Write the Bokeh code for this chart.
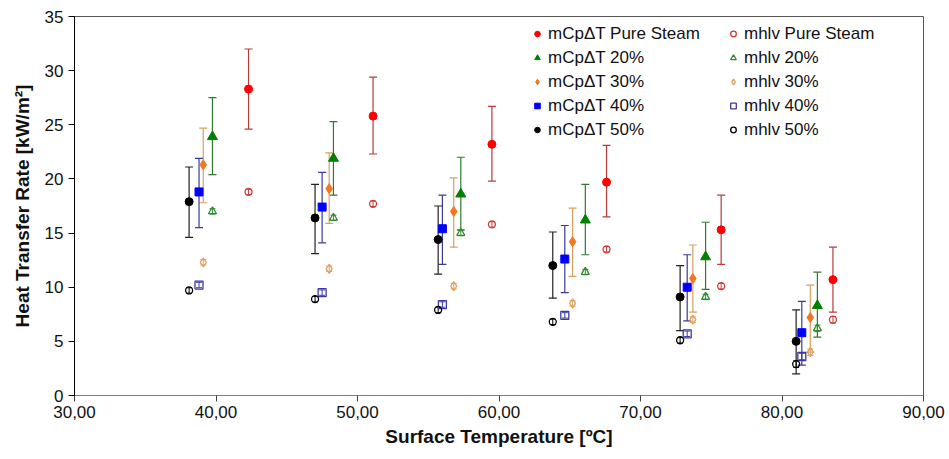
from bokeh.plotting import figure
from bokeh.models import (Range1d, FixedTicker, ColumnDataSource, Whisker, TeeHead,
                          Legend, LegendItem)
from bokeh.embed import file_html
from bokeh.resources import INLINE

# ---------------- data ----------------
series_names = ["Pure Steam", "20%", "30%", "40%", "50%"]

temp_pure = [42.3, 51.1, 59.5, 67.6, 75.7, 83.6]
mcp_pure = [28.3, 25.8, 23.2, 19.7, 15.3, 10.7]
mcp_pure_hi = [32.0, 29.4, 26.7, 23.1, 18.5, 13.7]
mcp_pure_lo = [24.6, 22.3, 19.8, 16.5, 12.1, 7.7]
mhlv_pure = [18.8, 17.7, 15.8, 13.5, 10.1, 7.0]

temp_20 = [39.75, 48.3, 57.3, 66.1, 74.6, 82.5]
mcp_20 = [23.9, 21.9, 18.6, 16.2, 12.8, 8.3]
mcp_20_hi = [27.5, 25.3, 22.0, 19.5, 16.0, 11.4]
mcp_20_lo = [20.4, 18.5, 15.3, 13.0, 9.8, 5.4]
mhlv_20 = [17.0, 16.4, 15.0, 11.4, 9.1, 6.2]

temp_30 = [39.1, 48.0, 56.8, 65.2, 73.7, 82.0]
mcp_30 = [21.3, 19.1, 17.0, 14.2, 10.8, 7.2]
mcp_30_hi = [24.7, 22.4, 20.1, 17.3, 13.9, 10.2]
mcp_30_lo = [17.8, 15.9, 13.7, 11.0, 7.7, 4.0]
mhlv_30 = [12.3, 11.7, 10.1, 8.5, 7.0, 4.0]

temp_40 = [38.8, 47.5, 56.0, 64.65, 73.3, 81.4]
mcp_40 = [18.8, 17.4, 15.4, 12.6, 10.0, 5.8]
mcp_40_hi = [21.9, 20.6, 18.5, 15.7, 13.0, 8.7]
mcp_40_lo = [15.5, 14.1, 12.1, 9.5, 6.9, 2.8]
mhlv_40 = [10.2, 9.5, 8.4, 7.4, 5.7, 3.6]

temp_50 = [38.1, 47.0, 55.7, 63.8, 72.8, 81.0]
mcp_50 = [17.9, 16.4, 14.4, 12.0, 9.1, 5.0]
mcp_50_hi = [21.1, 19.5, 17.5, 15.1, 12.0, 7.9]
mcp_50_lo = [14.6, 13.1, 11.2, 9.0, 6.0, 2.0]
mhlv_50 = [9.7, 8.9, 7.9, 6.8, 5.1, 2.9]

mhlv_err = [0.25, 0.25, 0.25, 0.25, 0.25, 0.3]

x_ticks = [30, 40, 50, 60, 70, 80, 90]
x_tick_labels = ["30,00", "40,00", "50,00", "60,00", "70,00", "80,00", "90,00"]
y_ticks = [0, 5, 10, 15, 20, 25, 30, 35]

# ---------------- styles ----------------
FONT = "Liberation Sans"
styles = [
    # marker, mcp color, bar color, mhlv color, mcp size, mhlv marker, mhlv size
    ("circle", "#ff0000", "#b83a3a", "#d03a3a", 8, "circle", 7),
    ("triangle", "#008000", "#2f7a2f", "#2f8a2f", 10, "triangle", 8),
    ("diamond", "#f07820", "#d8a060", "#e0a060", 10, "diamond", 9),
    ("square", "#0000ff", "#3a3a9a", "#3a3aa0", 8, "square", 8),
    ("circle", "#000000", "#222222", "#000000", 8, "circle", 7),
]
data = [
    (temp_pure, mcp_pure, mcp_pure_hi, mcp_pure_lo, mhlv_pure),
    (temp_20, mcp_20, mcp_20_hi, mcp_20_lo, mhlv_20),
    (temp_30, mcp_30, mcp_30_hi, mcp_30_lo, mhlv_30),
    (temp_40, mcp_40, mcp_40_hi, mcp_40_lo, mhlv_40),
    (temp_50, mcp_50, mcp_50_hi, mcp_50_lo, mhlv_50),
]

p = figure(width=949, height=459, output_backend="svg", toolbar_location=None,
           x_range=Range1d(30, 90), y_range=Range1d(0, 35),
           min_border_left=74, min_border_right=26, min_border_top=16, min_border_bottom=64)
p.background_fill_color = "white"
p.border_fill_color = "white"
p.outline_line_color = "#555555"
p.outline_line_width = 1
p.xgrid.visible = False
p.ygrid.visible = False

p.xaxis.ticker = FixedTicker(ticks=x_ticks)
p.xaxis.major_label_overrides = {t: l for t, l in zip(x_ticks, x_tick_labels)}
p.yaxis.ticker = FixedTicker(ticks=y_ticks)
for ax in (p.xaxis, p.yaxis):
    ax.minor_tick_line_color = None
    ax.major_tick_in = 0
    ax.major_tick_out = 6
    ax.major_label_text_font = FONT
    ax.major_label_text_font_size = "17px"
    ax.major_label_text_color = "#111111"
    ax.axis_label_text_font = FONT
    ax.axis_label_text_font_size = "19px"
    ax.axis_label_text_font_style = "bold"
    ax.axis_label_text_color = "#111111"
p.xaxis.axis_line_color = "#808080"
p.xaxis.major_tick_line_color = "#404040"
p.yaxis.axis_line_color = "#000000"
p.xaxis.major_label_standoff = 4
p.yaxis.major_label_standoff = 5
p.xaxis.axis_label_standoff = 5
p.yaxis.axis_label_standoff = 9
p.xaxis.axis_label = "Surface Temperature [ºC]"
p.yaxis.axis_label = "Heat Transfer Rate [kW/m²]"

mcp_items = []
mhlv_items = []
for name, (t, v, hi, lo, mh), (mk, c, bc, hc, ms, hmk, hs) in zip(series_names, data, styles):
    src = ColumnDataSource(dict(x=t, y=v, hi=hi, lo=lo))
    p.add_layout(Whisker(base="x", upper="hi", lower="lo", source=src,
                         line_color=bc, line_width=1.2,
                         upper_head=TeeHead(size=8, line_color=bc, line_width=1.2),
                         lower_head=TeeHead(size=8, line_color=bc, line_width=1.2)))
    hsrc = ColumnDataSource(dict(x=t, y=mh,
                                 hi=[a + e for a, e in zip(mh, mhlv_err)],
                                 lo=[a - e for a, e in zip(mh, mhlv_err)]))
    p.add_layout(Whisker(base="x", upper="hi", lower="lo", source=hsrc,
                         line_color=hc, line_width=1,
                         upper_head=TeeHead(size=6, line_color=hc, line_width=1),
                         lower_head=TeeHead(size=6, line_color=hc, line_width=1)))
    r1 = p.scatter("x", "y", source=src, marker=mk, size=ms, fill_color=c, line_color=c)
    r2 = p.scatter("x", "y", source=hsrc, marker=hmk, size=hs, fill_alpha=0,
                   line_color=hc, line_width=1.3)
    mcp_items.append(LegendItem(label="mCpΔT " + name, renderers=[r1]))
    mhlv_items.append(LegendItem(label="mhlv " + name, renderers=[r2]))

for items, loc in ((mcp_items, (456, 255)), (mhlv_items, (652, 255))):
    lg = Legend(items=items, location=loc, padding=0, margin=0, spacing=3,
                glyph_width=14, glyph_height=21, label_height=21, label_standoff=4,
                label_text_font=FONT, label_text_font_size="17px",
                label_text_color="#111111",
                border_line_color=None, background_fill_alpha=0)
    p.add_layout(lg, "center")

open("out.html", "w").write(file_html(p, INLINE))
